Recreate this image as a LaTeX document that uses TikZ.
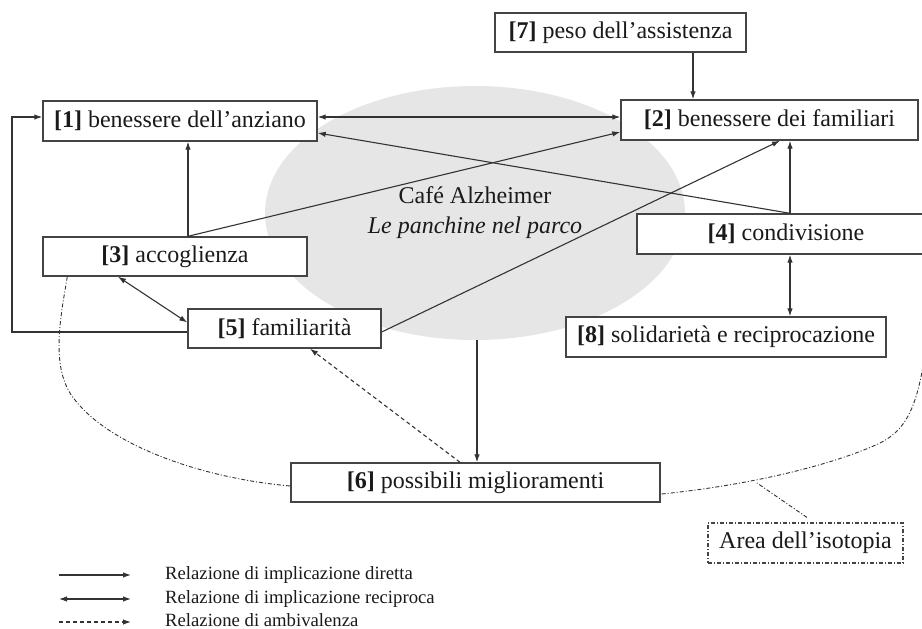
\documentclass[tikz,border=0pt]{standalone}
\usepackage{fontspec}
\setmainfont{Liberation Serif}
\usetikzlibrary{arrows.meta,calc,shapes.geometric}
\definecolor{ink}{HTML}{1A1A1A}
\definecolor{edge}{HTML}{333333}
\definecolor{frame}{HTML}{444444}
\definecolor{cafefill}{HTML}{E6E6E6}
\begin{document}
\begin{tikzpicture}[x=1pt,y=-1pt,
  font=\fontsize{24}{28}\selectfont, text=ink,
  box/.style={draw=frame,line width=1.4pt,fill=white,inner sep=0pt,minimum height=40pt},
  isobox/.style={draw=frame,line width=1.1pt,inner sep=0pt,minimum height=40pt,
    dash pattern=on 4pt off 2pt on 1pt off 2pt},
  arr/.style={draw=edge,line width=1.1pt,-{Latex[length=8pt,width=5.5pt]}},
  biarr/.style={draw=edge,line width=1.1pt,{Latex[length=8pt,width=5.5pt]}-{Latex[length=8pt,width=5.5pt]}},
  amb/.style={arr,dash pattern=on 4pt off 3pt},
  iso/.style={draw=edge,line width=0.9pt,dash pattern=on 4pt off 2pt on 1pt off 2pt},
  legtext/.style={anchor=west,font=\fontsize{18.7}{22}\selectfont,inner sep=0pt}]
\useasboundingbox (0,0) rectangle (922,629);
\clip (0,0) rectangle (922,629);

% central area
\node[ellipse,fill=cafefill,minimum width=420pt,minimum height=254pt,inner sep=0pt,
  align=center,font=\fontsize{24}{30}\selectfont] (cafe) at (475,213)
  {Café Alzheimer\\\textit{Le panchine nel parco}};

% categories
\node[box,minimum width=274pt] (b1) at (180,121) {\textbf{[1]} benessere dell’anziano};
\node[box,minimum width=297pt] (b2) at (769.5,120) {\textbf{[2]} benessere dei familiari};
\node[box,minimum width=251pt,minimum height=39pt] (b7) at (620.5,32.5) {\textbf{[7]} peso dell’assistenza};
\node[box,minimum width=264pt,minimum height=39pt] (b3) at (175,256.5) {\textbf{[3]} accoglienza};
\node[box,minimum width=298pt] (b4) at (786,234) {\textbf{[4]} condivisione};
\node[box,minimum width=193pt,minimum height=39pt] (b5) at (284.5,328.5) {\textbf{[5]} familiarità};
\node[box,minimum width=320pt] (b8) at (726,337) {\textbf{[8]} solidarietà e reciprocazione};
\node[box,minimum width=369pt,minimum height=39pt] (b6) at (475.5,482.5) {\textbf{[6]} possibili miglioramenti};
\node[isobox,minimum width=195pt] (area) at (805.5,543) {Area dell’isotopia};

% relations
\draw[biarr] ($(b1.east)+(0,-4)$) -- ($(b2.west)+(0,-3)$);
\draw[arr] ($(b4.north)+(4,0)$) -- ($(b1.east)+(0,12)$);
\draw[arr] ($(b4.north)+(4,0)$) -- ($(b2.south)+(20.5,0)$);
\draw[arr] ($(b3.north)+(13,0)$) -- ($(b1.south)+(8,0)$);
\draw[arr] ($(b3.north)+(13,0)$) -- ($(b2.west)+(0,12)$);
\draw[arr] ($(b5.east)+(0,3.5)$) -- ($(b2.south)+(10.5,0)$);
\draw[biarr] ($(b3.south)+(-57,0)$) -- ($(b5.west)+(0,-6)$);
\coordinate (lx) at (12,0);
\coordinate (p5) at ($(b5.west)+(0,3.5)$);
\coordinate (q1) at ($(b1.west)+(0,-4)$);
\draw[arr] (p5) -- (p5 -| lx) |- (q1);
\draw[arr] ($(b7.south)+(72.5,0)$) -- ($(b2.north)+(-76.5,0)$);
\draw[biarr] ($(b4.south)+(4,0)$) -- ($(b8.north)+(64,0)$);
\draw[arr] ($(cafe.south)+(2,0)$) -- ($(b6.north)+(1.5,0)$);
\draw[amb] ($(b6.north)+(-15.5,0)$) -- ($(b5.south)+(25.5,0)$);

% isotopy boundary
\draw[iso] ($(b3.south west)+(25,0)$) .. controls (60,320) and (50,370) .. (75,400)
  .. controls (110,445) and (200,478) .. ($(b6.west)+(0,3.5)$);
\draw[iso] ($(b6.east)+(1,11.5)$) .. controls (760,484) and (840,462) .. (880,443)
  .. controls (910,428) and (920,400) .. (928,330);
\coordinate (isoedge) at (757,483);
\draw[iso] ($(area.north)+(1.5,-5)$) -- (isoedge);

% legend
\coordinate (l1a) at (59,575); \coordinate (l1b) at (131,575);
\coordinate (l2a) at (59,599); \coordinate (l2b) at (131,599);
\coordinate (l3a) at (59,622); \coordinate (l3b) at (131,622);
\draw[arr] (l1a) -- (l1b);
\draw[biarr] (l2a) -- (l2b);
\draw[amb] (l3a) -- (l3b);
\node[legtext] (t1) at (165,575) {Relazione di implicazione diretta};
\node[legtext] (t2) at (165,599) {Relazione di implicazione reciproca};
\node[legtext] (t3) at (165,620) {Relazione di ambivalenza};
\end{tikzpicture}
\end{document}
